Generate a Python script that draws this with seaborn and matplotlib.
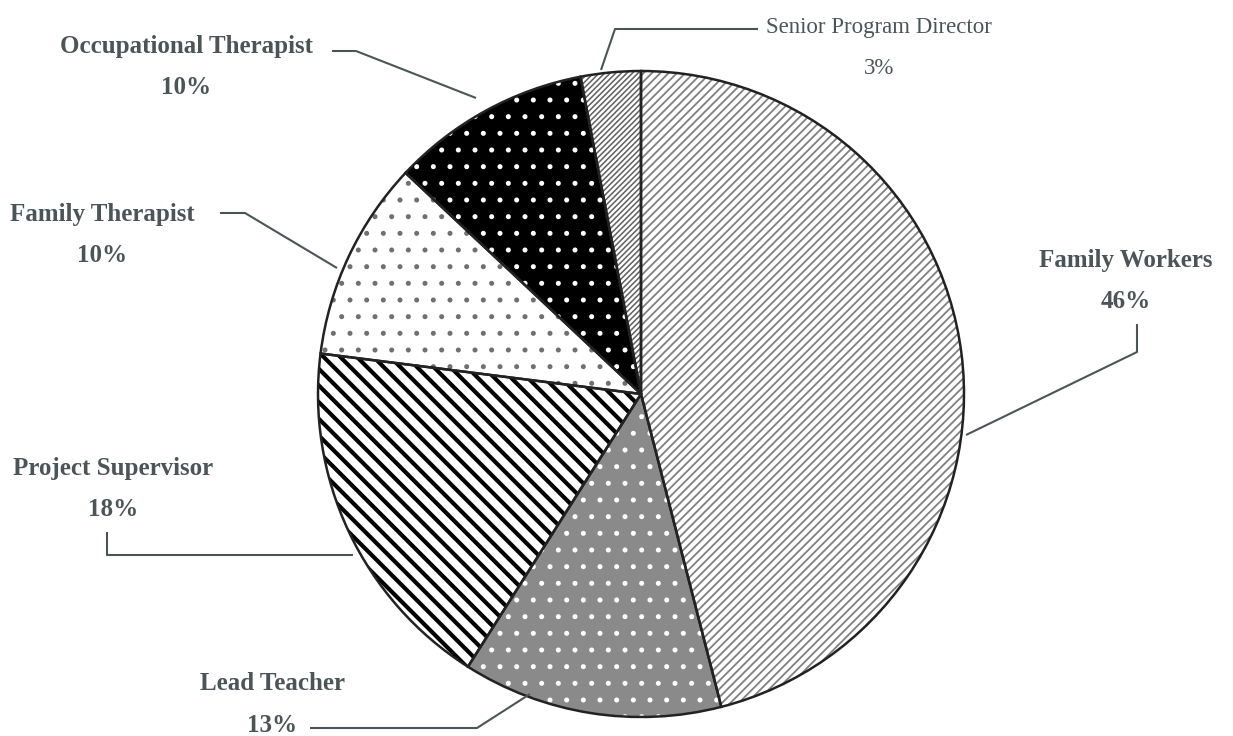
import matplotlib.pyplot as plt
import seaborn as sns

# 数据
roles = ['Family Workers', 'Lead Teacher', 'Project Supervisor',
         'Family Therapist', 'Occupational Therapist', 'Senior Program Director']
shares = [46, 13, 18, 10, 10, 3]

# 样式（面色、填充图案、图案颜色）
face_colors = ['white', '#8a8a8a', 'white', 'white', 'black', 'white']
hatches = ['////', '.', '\\\\', '.', '.', '//////']
hatch_colors = ['#808080', 'white', 'black', '#707070', 'white', '#606060']
hatch_widths = [1.3, 1.2, 3.0, 1.2, 1.2, 1.1]
label_weights = ['bold', 'bold', 'bold', 'bold', 'bold', 'normal']

# 标签位置（像素，y 从上往下）
label_pos = [(1126, 260), (272, 684), (113, 468), (102, 215), (186, 47), (879, 27)]
# 引线（像素）
leaders = [
    [(1137, 324), (1137, 352), (966, 435)],
    [(310, 728), (477, 728), (530, 694)],
    [(107, 532), (107, 555), (353, 555)],
    [(220, 213), (245, 213), (337, 268)],
    [(332, 51), (356, 51), (476, 98)],
    [(758, 29), (615, 29), (601, 70)],
]

sns.set_theme(style='white')
plt.rcParams['font.family'] = ['Liberation Serif', 'DejaVu Serif']

W, H = 1233, 736
fig = plt.figure(figsize=(W / 100, H / 100), dpi=100)
ax = fig.add_axes([0, 0, 1, 1])

center = (641, H - 394)
radius = 323

wedges, _ = ax.pie(shares, startangle=90, counterclock=False, center=center,
                   radius=radius, colors=face_colors,
                   wedgeprops=dict(linewidth=0))
for w, h, hc, hw in zip(wedges, hatches, hatch_colors, hatch_widths):
    w.set_edgecolor(hc)
    w.set_hatch(h)
    if hasattr(w, 'set_hatch_linewidth'):
        w.set_hatch_linewidth(hw)
    else:
        w._hatch_linewidth = hw

# 轮廓
ax.pie(shares, startangle=90, counterclock=False, center=center, radius=radius,
       wedgeprops=dict(fill=False, edgecolor='#222222', linewidth=1.8))

text_color = '#4b5557'
for role, v, (x, y), pts, fw in zip(roles, shares, label_pos, leaders, label_weights):
    fs = 18 if fw == 'bold' else 16.5
    ax.text(x, H - y, role, ha='center', va='center', fontsize=fs,
            fontweight=fw, color=text_color)
    ax.text(x, H - y - 41, f'{v}%', ha='center', va='center', fontsize=fs,
            fontweight=fw, color=text_color)
    ax.plot([p[0] for p in pts], [H - p[1] for p in pts], color=text_color,
            linewidth=1.5, solid_capstyle='butt')

ax.set_xlim(0, W)
ax.set_ylim(0, H)
ax.set_aspect('equal')
ax.axis('off')

plt.savefig('out.png', dpi=100)
plt.close()
